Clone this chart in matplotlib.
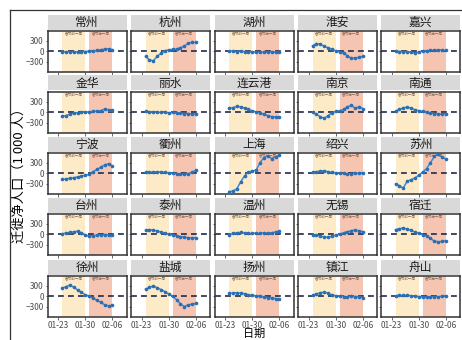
import matplotlib
matplotlib.use("Agg")
import matplotlib.pyplot as plt
import matplotlib.dates as mdates
import pandas as pd
from matplotlib.patches import Rectangle

plt.rcParams['font.family'] = ['Noto Sans CJK SC', 'DejaVu Sans']

# 城市（按分面顺序，5 x 5）
cities = ['常州', '杭州', '湖州', '淮安', '嘉兴',
          '金华', '丽水', '连云港', '南京', '南通',
          '宁波', '衢州', '上海', '绍兴', '苏州',
          '台州', '泰州', '温州', '无锡', '宿迁',
          '徐州', '盐城', '扬州', '镇江', '舟山']

dates = pd.date_range('2020-01-24', periods=14)

# 每日迁徙净人口（千人）
net = {
    '常州': [-10, -20, -15, -25, -20, -10, -10, 0, 10, 20, 40, 60, 70, 40],
    '杭州': [-150, -250, -280, -150, -60, 10, 40, 50, 60, 100, 140, 230, 250, 250],
    '湖州': [10, 0, -10, 0, -10, -20, -20, -20, -30, -20, -30, -20, -30, -10],
    '淮安': [150, 220, 200, 140, 100, 50, 10, -20, -60, -130, -210, -200, -180, -150],
    '嘉兴': [0, -10, -10, -20, -30, -50, -20, 0, 10, 20, 30, 40, 30, 20],
    '金华': [-120, -100, -60, -30, -20, -10, 0, 10, 20, 30, 40, 90, 70, 50],
    '丽水': [20, 10, 0, 0, -10, 0, -20, -10, -30, -30, -40, -40, -50, -50],
    '连云港': [110, 130, 170, 150, 120, 80, 40, 10, -20, -60, -100, -130, -140, -130],
    '南京': [-10, -60, -130, -180, -100, -20, 20, 40, 80, 150, 200, 110, 160, 100],
    '南通': [30, 80, 120, 150, 110, 70, 40, 20, 0, -20, -40, -60, -50, -40],
    '宁波': [-180, -165, -150, -130, -110, -85, -65, -30, 40, 110, 170, 240, 270, 210],
    '衢州': [20, 30, 30, 40, 30, 20, 10, 0, -20, -30, -30, -20, 30, 80],
    '上海': [-530, -520, -450, -250, -80, 30, 60, 90, 300, 450, 500, 420, 470, 520],
    '绍兴': [20, 40, 60, 70, 40, 20, 10, 0, -10, -20, -20, -10, 0, 10],
    '苏州': [-310, -360, -430, -230, -190, -140, -60, 30, 130, 300, 480, 560, 460, 400],
    '台州': [10, 30, 50, 70, 80, 40, -20, -60, -40, -30, -20, -10, -20, -30],
    '泰州': [110, 130, 120, 90, 60, 30, 0, -20, -50, -70, -90, -100, -110, -100],
    '温州': [-10, 20, 40, 50, 30, 20, 20, 30, 20, 40, 30, 40, 60, 90],
    '无锡': [-10, -30, -50, -80, -90, -60, -30, 0, 40, 70, 100, 120, 90, 70],
    '宿迁': [130, 160, 170, 150, 110, 60, 20, -10, -50, -120, -200, -220, -210, -190],
    '徐州': [230, 270, 320, 260, 180, 110, 40, 0, -60, -120, -180, -250, -280, -260],
    '盐城': [200, 250, 300, 240, 190, 130, 60, 0, -100, -220, -300, -250, -230, -210],
    '扬州': [80, 90, 100, 90, 70, 40, 20, 10, 0, -20, -40, -50, -70, -80],
    '镇江': [20, 60, 100, 110, 80, 40, 10, 0, -10, -20, 0, -10, -20, -40],
    '舟山': [10, 20, 20, 30, 10, 0, -10, -20, -30, -20, -10, -20, 0, 10],
}

# 春节前后两周
before = ('2020-01-24', '2020-01-30')
after = ('2020-01-31', '2020-02-06')
x_ticks = ['2020-01-23', '2020-01-30', '2020-02-06']
y_ticks = [-300, 0, 300]

W, H = 462, 340
fig = plt.figure(figsize=(W / 100, H / 100), dpi=100)


def box(x0, y0, w, h):
    return [x0 / W, 1 - (y0 + h) / H, w / W, h / H]


col_x = [47.5, 131, 214.5, 298, 381]
row_y = [31, 92, 153, 214, 276]
pw, ph = 79, 41
x_lo = pd.Timestamp('2020-01-24') - pd.Timedelta(days=3.74)
x_hi = pd.Timestamp('2020-01-24') + pd.Timedelta(days=16.62)

for i, city in enumerate(cities):
    r, c = divmod(i, 5)
    ax = fig.add_axes(box(col_x[c], row_y[r], pw, ph))
    ax.axvspan(pd.Timestamp(before[0]), pd.Timestamp(before[1]), color='#FCEBC6', lw=0, zorder=0)
    ax.axvspan(pd.Timestamp(after[0]), pd.Timestamp(after[1]), color='#F6C5B1', lw=0, zorder=0)
    for span, label in [(before, '春节前一周'), (after, '春节后一周')]:
        mid = pd.Timestamp(span[0]) + (pd.Timestamp(span[1]) - pd.Timestamp(span[0])) / 2
        ax.text(mid, 500, label, fontsize=2.6, color='#8a6a5c', ha='center', va='center', zorder=1)
    ax.axhline(0, color='#1f2b4a', lw=1.2, ls=(0, (3.5, 2.5)), zorder=2)
    ax.plot(dates, net[city], color='#3b8bd4', lw=1.1, marker='o', ms=1.6,
            mfc='#2a6fb5', mec='#2a6fb5', zorder=3)
    ax.set_xlim(x_lo, x_hi)
    ax.set_ylim(-600, 580)
    ax.set_xticks(pd.to_datetime(x_ticks))
    ax.xaxis.set_major_formatter(mdates.DateFormatter('%m-%d'))
    ax.set_yticks(y_ticks)
    ax.tick_params(colors='#4d4d4d', labelcolor='#4d4d4d', labelsize=6,
                   length=1.8, width=0.6, pad=0.8)
    if c != 0:
        ax.tick_params(axis='y', labelleft=False)
    if r != 4:
        ax.tick_params(axis='x', labelbottom=False)
    for s in ax.spines.values():
        s.set_color('#333333')
        s.set_linewidth(1.1)

    # 分面标题条
    fig.patches.append(Rectangle((col_x[c] / W, 1 - (row_y[r] - 1.5) / H), pw / W, 15 / H,
                                 transform=fig.transFigure, facecolor='#D9D9D9',
                                 edgecolor='none'))
    fig.text((col_x[c] + pw / 2) / W, 1 - (row_y[r] - 9) / H, city,
             fontsize=8.5, color='#1a1a1a', ha='center', va='center')

fig.text(254 / W, 1 - 334 / H, '日期', fontsize=8, ha='center', va='center')
fig.text(19 / W, 1 - 172 / H, '迁徙净人口（1 000 人）', fontsize=9.5,
         rotation=90, ha='center', va='center')

# 外框线
fig.add_artist(plt.Line2D([9.5 / W, 9.5 / W], [0, 1 - 10 / H], transform=fig.transFigure,
                          color='#333333', lw=0.9))
fig.add_artist(plt.Line2D([9.5 / W, 1], [1 - 10 / H, 1 - 10 / H], transform=fig.transFigure,
                          color='#333333', lw=0.9))

fig.savefig('out.png', dpi=100)
